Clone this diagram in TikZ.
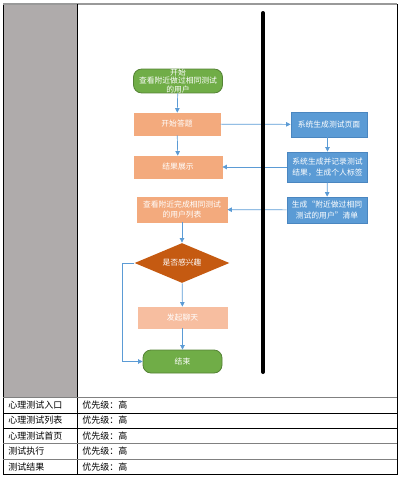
\documentclass[tikz,border=0pt]{standalone}
\usepackage{fontspec}
\newfontfamily\cjk{Noto Sans CJK SC}
\usetikzlibrary{shapes.geometric,arrows.meta}
\definecolor{flowgreen}{HTML}{70AD47}
\definecolor{flowgreenline}{HTML}{548235}
\definecolor{floworange}{HTML}{F3AA7D}
\definecolor{flowpale}{HTML}{F7BEA0}
\definecolor{flowbrown}{HTML}{C55A11}
\definecolor{flowblue}{HTML}{5B9BD5}
\definecolor{flowblueline}{HTML}{4A86C0}
\definecolor{tablegray}{HTML}{AFABAB}

\begin{document}
\begin{tikzpicture}[x=1pt, y=-1pt, thick,
  every node/.style={font=\cjk\fontsize{7.8}{10.5}\selectfont, text=white, inner sep=1pt, align=center},
  term/.style={draw=flowgreenline, fill=flowgreen, rounded corners=8pt, minimum height=23},
  orangebox/.style={draw=floworange, fill=floworange, minimum height=22},
  bluebox/.style={draw=flowblueline, fill=flowblue, minimum width=80},
  link/.style={draw=flowblue, line width=0.7, -{Triangle[width=4.5pt,length=4.5pt]}},
  rowtext/.style={text=black, anchor=west, font=\cjk\fontsize{9}{10}\selectfont}]
\useasboundingbox (0,0) rectangle (400,477);

% table frame
\fill[tablegray] (3,4) rectangle (77,397);
\draw[line width=0.8] (397,4) -- (397,474) -- (3,474) -- (3,4);
\draw[line width=1.2, gray!80] (3,4) -- (397,4);
\draw[line width=0.8] (77,4) -- (77,474);
\foreach \y/\c in {397/gray, 413/black, 428/black, 443/gray, 459/gray}
  \draw[line width=0.8, \c] (3,\y) -- (397,\y);

\foreach \name [count=\i] in {心理测试入口, 心理测试列表, 心理测试首页, 测试执行, 测试结果}
  \node[rowtext] (row\i) at (7, 389.6+15.4*\i) {\name};
\foreach \i in {1,...,5}
  \node[rowtext] (prio\i) at (81, 389.6+15.4*\i) {优先级：高};

% left column
\node[term, minimum width=89, inner sep=0pt, font=\cjk\fontsize{7.8}{8.3}\selectfont] (start) at (178,81) {开始\\查看附近做过相同测试\\的用户};
\node[orangebox, minimum width=86] (answer) at (177,124) {开始答题};
\node[orangebox, minimum width=88] (result) at (178,167) {结果展示};
\node[orangebox, minimum width=90, minimum height=25] (list) at (182,209.5) {查看附近完成相同测试\\的用户列表};
\node[diamond, fill=flowbrown, aspect=2.4, inner sep=0pt, minimum width=95, minimum height=40] (ask) at (182,263) {是否感兴趣};
\node[draw=flowpale, fill=flowpale, minimum width=89, minimum height=21] (chat) at (182.5,317.5) {发起聊天};
\node[term, minimum width=79] (end) at (182.5,361.5) {结束};

% right column
\node[bluebox, minimum width=76, minimum height=25] (page) at (329,124.5) {系统生成测试页面};
\node[bluebox, minimum height=30] (record) at (327.5,167) {系统生成并记录测试\\结果，生成个人标签};
\node[bluebox, minimum height=26] (near) at (327,210) {生成“附近做过相同\\测试的用户”清单};

% connectors
\draw[link] (start) -- (answer);
\draw[link] (answer) -- (result);
\draw[link] (answer) -- (page);
\draw[link] (page.south -| record.north) -- (record);
\draw[link] (record) -- (result);
\draw[link] (record) -- (near);
\draw[link] (near) -- (list);
\draw[link] (list) -- (ask);
\draw[link] (ask) -- (chat);
\draw[link] (chat) -- (end);
\draw[link] (ask.west) -- ++(-12,0) |- (end.west);

% divider
\draw[line width=4, line cap=round] (263,13) -- (263,372);
\end{tikzpicture}
\end{document}
